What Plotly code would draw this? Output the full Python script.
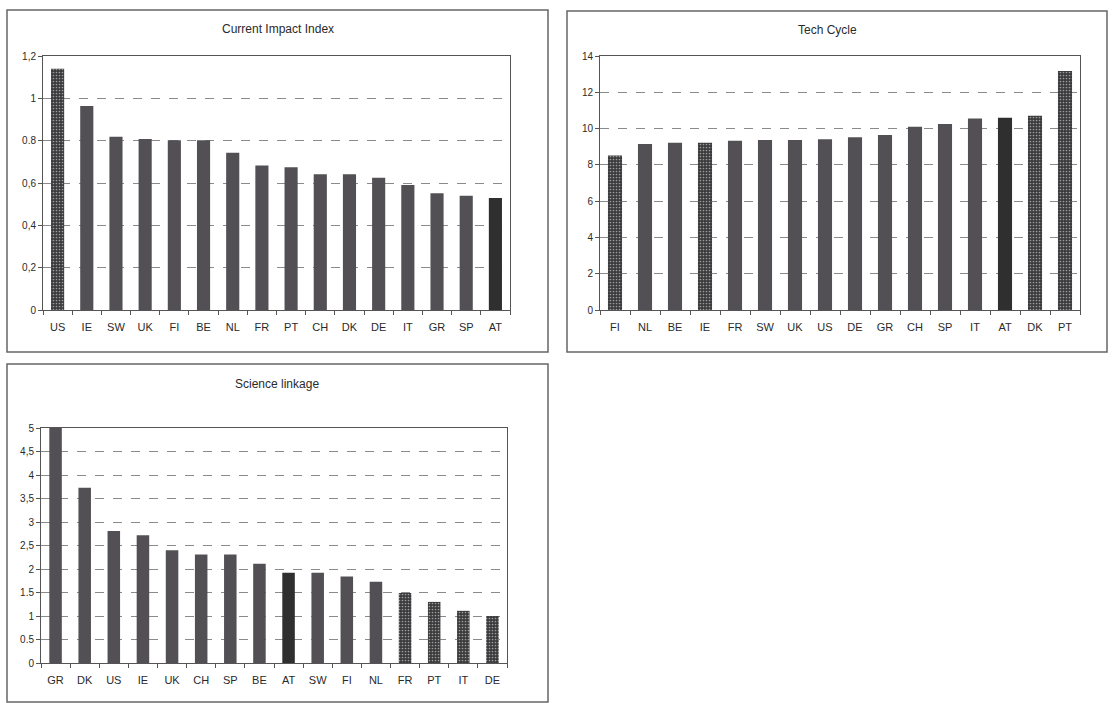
import plotly.graph_objects as go

W, H = 1112, 703

# ---- data ----
cii_countries = ["US", "IE", "SW", "UK", "FI", "BE", "NL", "FR", "PT", "CH", "DK", "DE", "IT", "GR", "SP", "AT"]
cii_values = [1.14, 0.964, 0.818, 0.808, 0.802, 0.802, 0.743, 0.683, 0.674, 0.641, 0.641, 0.625, 0.59, 0.551, 0.54, 0.529]

tc_countries = ["FI", "NL", "BE", "IE", "FR", "SW", "UK", "US", "DE", "GR", "CH", "SP", "IT", "AT", "DK", "PT"]
tc_values = [8.52, 9.15, 9.22, 9.22, 9.33, 9.37, 9.37, 9.41, 9.52, 9.65, 10.1, 10.25, 10.56, 10.6, 10.71, 13.17]

sl_countries = ["GR", "DK", "US", "IE", "UK", "CH", "SP", "BE", "AT", "SW", "FI", "NL", "FR", "PT", "IT", "DE"]
sl_values = [5.0, 3.73, 2.81, 2.72, 2.40, 2.31, 2.31, 2.11, 1.92, 1.92, 1.84, 1.73, 1.49, 1.30, 1.11, 1.0]

cii_ticks = [0, 0.2, 0.4, 0.6, 0.8, 1.0, 1.2]
cii_ticktext = ["0", "0,2", "0,4", "0,6", "0.8", "1", "1,2"]
tc_ticks = [0, 2, 4, 6, 8, 10, 12, 14]
tc_ticktext = ["0", "2", "4", "6", "8", "10", "12", "14"]
sl_ticks = [0, 0.5, 1, 1.5, 2, 2.5, 3, 3.5, 4, 4.5, 5]
sl_ticktext = ["0", "0.5", "1", "1.5", "2", "2,5", "3", "3,5", "4", "4,5", "5"]

cii_highlight = ["US"]
tc_highlight = ["FI", "IE", "DK", "PT"]
sl_highlight = ["FR", "PT", "IT", "DE"]
dark_country = "AT"

NORMAL = "#525055"
SPECK = "#3a3a3c"
DARK = "#2f2f30"
FONT = "Liberation Sans, Arial, sans-serif"


def px_x(v):
    return v / W


def px_y(v):
    return 1 - v / H


def bar_trace(cats, vals, hl, xa, ya, width):
    colors = []
    shapes = []
    for c in cats:
        if c == dark_country:
            colors.append(DARK)
            shapes.append("")
        elif c in hl:
            colors.append(SPECK)
            shapes.append(".")
        else:
            colors.append(NORMAL)
            shapes.append("")
    return go.Bar(
        x=cats, y=vals, xaxis=xa, yaxis=ya, width=width,
        marker=dict(color=colors, line=dict(width=0),
                    pattern=dict(shape=shapes, fgcolor="#6e6e6e", size=3, solidity=0.25)),
        showlegend=False, hoverinfo="x+y",
    )


fig = go.Figure()
fig.add_trace(bar_trace(cii_countries, cii_values, cii_highlight, "x", "y", 0.45))
fig.add_trace(bar_trace(tc_countries, tc_values, tc_highlight, "x2", "y2", 0.47))
fig.add_trace(bar_trace(sl_countries, sl_values, sl_highlight, "x3", "y3", 0.43))

# plot areas in pixels: (left, right, top, bottom)
areas = [(43, 510, 56, 310), (600, 1080, 56, 310), (41, 507, 428, 663)]
yranges = [(0, 1.2), (0, 14), (0, 5)]
ytickv = [cii_ticks, tc_ticks, sl_ticks]
ytickt = [cii_ticktext, tc_ticktext, sl_ticktext]

layout = dict(
    width=W, height=H, autosize=False,
    margin=dict(l=0, r=0, t=0, b=0, pad=0, autoexpand=False),
    paper_bgcolor="white", plot_bgcolor="white",
    font=dict(family=FONT, color="#333333", size=10),
    bargap=0.5,
)
for i, (l, r, t, b) in enumerate(areas):
    sfx = "" if i == 0 else str(i + 1)
    layout["xaxis" + sfx] = dict(
        domain=[px_x(l), px_x(r)], anchor="y" + sfx, automargin=False,
        showline=True, linecolor="#555555", linewidth=1, mirror=True,
        ticks="outside", ticklen=4, tickcolor="#555555", tickson="boundaries",
        ticklabelstandoff=7,
        showgrid=False, tickfont=dict(size=11, color="#2a2a2a", family=FONT),
        range=[-0.5, 15.5], fixedrange=True,
    )
    layout["yaxis" + sfx] = dict(
        domain=[px_y(b), px_y(t)], anchor="x" + sfx, automargin=False,
        range=list(yranges[i]),
        tickvals=ytickv[i], ticktext=ytickt[i],
        showline=True, linecolor="#555555", linewidth=1, mirror=True,
        ticks="outside", ticklen=4, tickcolor="#555555",
        showgrid=True, gridcolor="#8a8a8a", griddash="dash", gridwidth=1,
        zeroline=False, tickfont=dict(size=10, color="#2a2a2a", family=FONT),
        fixedrange=True,
    )
fig.update_layout(**layout)

# panel frames
boxes = [(7, 548, 10, 352), (567, 1107, 11, 352), (7, 548, 364, 702)]
for (l, r, t, b) in boxes:
    fig.add_shape(type="rect", xref="paper", yref="paper",
                  x0=px_x(l), x1=px_x(r), y0=px_y(b), y1=px_y(t),
                  line=dict(color="#666666", width=1.5), fillcolor="rgba(0,0,0,0)", layer="below")

titles = [("Current Impact Index", 278, 29), ("Tech Cycle", 827, 30), ("Science linkage", 277, 384)]
for txt, x, y in titles:
    fig.add_annotation(text=txt, xref="paper", yref="paper", x=px_x(x), y=px_y(y),
                       showarrow=False, xanchor="center", yanchor="middle",
                       font=dict(size=12, color="#2a2a2a", family=FONT))

fig.write_html(
    "out.html",
    config={"displayModeBar": False, "responsive": False},
    post_script="document.body.style.margin='0';document.body.style.padding='0';document.body.style.overflow='hidden';",
)
